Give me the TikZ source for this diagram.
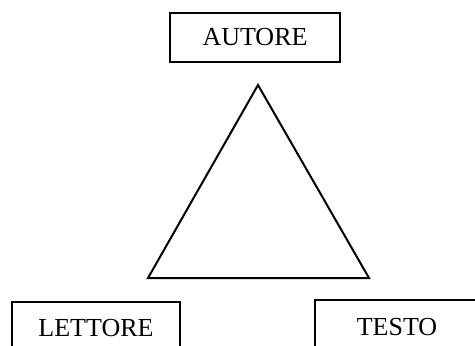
\documentclass[tikz,border=0pt]{standalone}
\usepackage{fontspec}
\setmainfont{Liberation Serif}
\begin{document}
\begin{tikzpicture}[x=1pt,y=-1pt,
  box/.style={draw,line width=2pt,inner sep=0pt,minimum width=170pt,font=\fontsize{26}{30}\selectfont},
  tri/.style={draw,line width=2pt,line join=miter}]
\useasboundingbox (0,0) rectangle (475,346);
\node[box,minimum height=49pt] (autore) at (255,37.5) {AUTORE};
\node[box,minimum width=168pt,minimum height=52pt] (lettore) at (96,328) {LETTORE};
\node[box,minimum width=164pt,minimum height=54pt] (testo) at (397,327) {TESTO};
\coordinate (apex) at (258,85);
\coordinate (bl) at (148,278);
\coordinate (br) at (369,278);
\draw[tri] (apex) -- (bl) -- (br) -- cycle;
\end{tikzpicture}
\end{document}
